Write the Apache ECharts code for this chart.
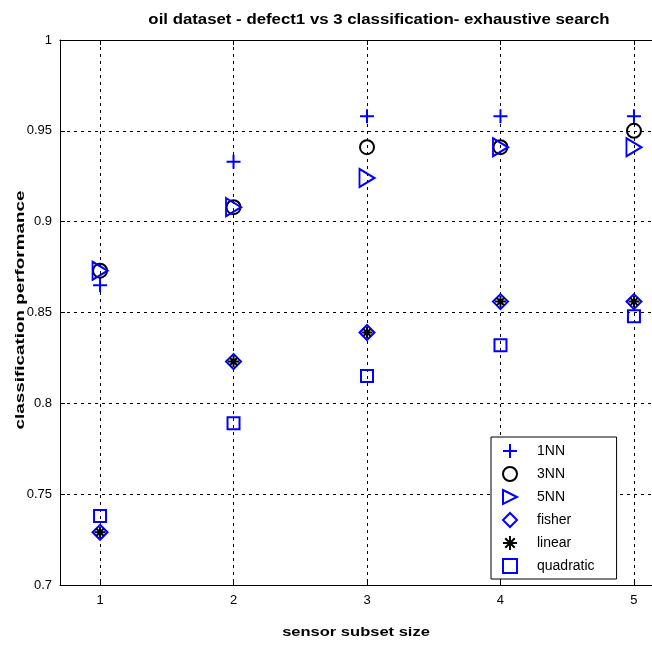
<!DOCTYPE html>
<html><head><meta charset="utf-8">
<script src="https://cdn.jsdelivr.net/npm/echarts@6/dist/echarts.min.js"></script>
<style>html,body{margin:0;padding:0;background:#fff}#c{width:652px;height:645px}</style>
</head><body><div id="c"></div>
<script>
const subsetSizes = [1, 2, 3, 4, 5];
const nn1 = [0.865, 0.933, 0.958, 0.958, 0.958];
const nn3 = [0.873, 0.908, 0.941, 0.941, 0.950];
const nn5 = [0.873, 0.908, 0.924, 0.941, 0.941];
const fisher = [0.729, 0.823, 0.839, 0.856, 0.856];
const linear = [0.729, 0.823, 0.839, 0.856, 0.856];
const quadratic = [0.738, 0.789, 0.815, 0.832, 0.848];
const yTicks = [0.7, 0.75, 0.8, 0.85, 0.9, 0.95, 1];

const FONT = 'Arial, "Liberation Sans", sans-serif';
const BLUE = '#0000ff';
const plusPath = 'path://M5,0L5,10M0,5L10,5';
const starPath = 'path://M5,0L5,10M0,5L10,5M1.6,1.6L8.4,8.4M8.4,1.6L1.6,8.4';
const triPath = 'path://M0,0L10,5L0,10Z';

function pts(v){ return subsetSizes.map((x,i)=>[x, v[i]]); }
function ser(name, data, symbol, size, color){
  return {
    name, type:'scatter', data: pts(data), symbol, symbolSize: size,
    itemStyle: {color:'transparent', borderColor: color, borderWidth: 2, opacity: 1},
    emphasis:{disabled:true}
  };
}
const chart = echarts.init(document.getElementById('c'));
const dash = {color:'#000', width:1, type:[3,4]};
chart.setOption({
  animation:false,
  textStyle:{fontFamily:FONT},
  grid:{left:60, top:40, bottom:60, right:-22, outerBoundsMode:'none'},
  legend:{orient:'vertical', left:491, top:437, backgroundColor:'#fff', borderColor:'#000', borderWidth:1,
    padding:[6,22,5,11], itemWidth:14, itemHeight:14, itemGap:7,
    textStyle:{fontFamily:FONT, fontSize:14, color:'#000', padding:[0,0,0,15]},
    data:['1NN','3NN','5NN','fisher','linear','quadratic']},
  xAxis:[{type:'value', min:0.7, max:5.3, position:'bottom',
    axisLine:{lineStyle:{color:'#000'}},
    axisTick:{inside:true, length:5, customValues: subsetSizes, lineStyle:{color:'#000'}},
    axisLabel:{customValues: subsetSizes, color:'#000', fontSize:13, margin:9, fontFamily:FONT},
    splitLine:{show:true, lineStyle:dash}},
   {type:'value', min:0.7, max:5.3, position:'top',
    axisLine:{lineStyle:{color:'#000'}},
    axisTick:{inside:true, length:5, customValues: subsetSizes, lineStyle:{color:'#000'}},
    axisLabel:{show:false}, splitLine:{show:false}}],
  yAxis:[{type:'value', min:0.7, max:1, interval:0.05,
    axisLine:{show:true, lineStyle:{color:'#000'}},
    axisTick:{show:true, inside:true, length:5, lineStyle:{color:'#000'}},
    axisLabel:{color:'#000', fontSize:13, margin:8, fontFamily:FONT, formatter:v=>String(+v.toFixed(2))},
    splitLine:{show:true, lineStyle:dash}}],
  graphic:[
    {type:'text', x:379, y:20, scaleX:1.2, style:{text:'oil dataset - defect1 vs 3 classification- exhaustive search', font:'bold 14px '+FONT, fill:'#000', align:'center', verticalAlign:'middle'}},
    {type:'text', x:356, y:632, scaleX:1.27, style:{text:'sensor subset size', font:'bold 13px '+FONT, fill:'#000', align:'center', verticalAlign:'middle'}},
    {type:'text', x:20, y:310, rotation:Math.PI/2, scaleX:1.45, style:{text:'classification performance', font:'bold 13px '+FONT, fill:'#000', align:'center', verticalAlign:'middle'}}
  ],
  series:[
    ser('1NN', nn1, plusPath, 14, BLUE),
    ser('3NN', nn3, 'circle', 14, '#000'),
    ser('5NN', nn5, triPath, [15,18], BLUE),
    ser('fisher', fisher, 'diamond', 15, BLUE),
    ser('linear', linear, starPath, 11, '#000'),
    ser('quadratic', quadratic, 'rect', 12, BLUE)
  ]
});
</script></body></html>
